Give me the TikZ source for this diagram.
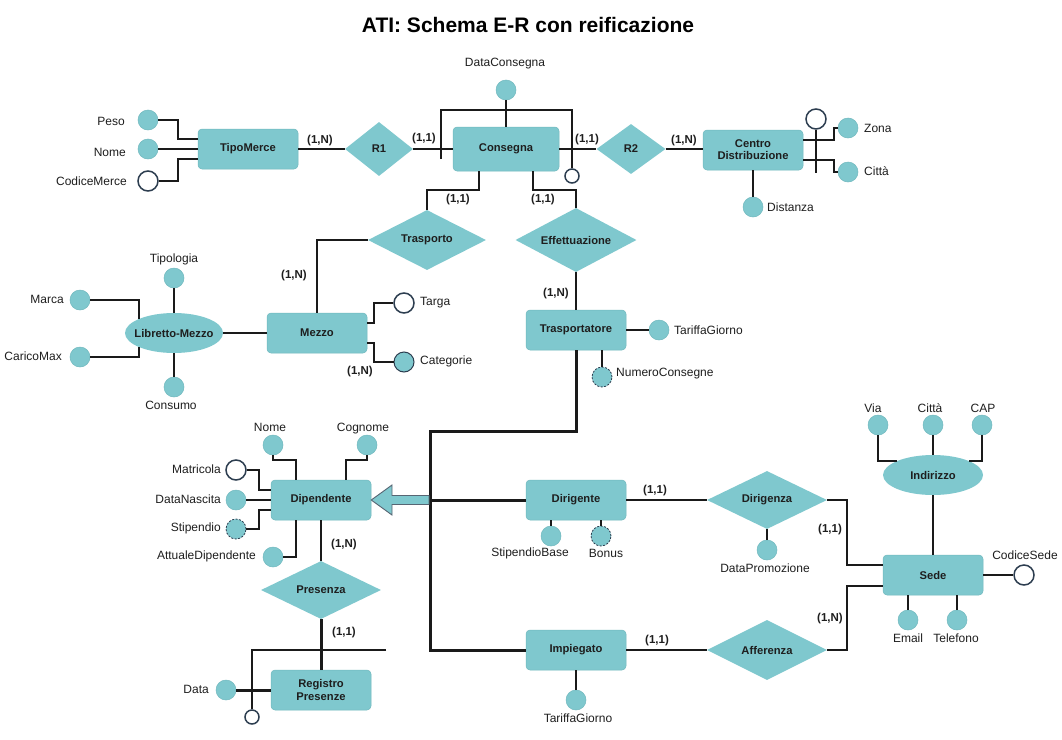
\documentclass[tikz,border=0pt]{standalone}
\usepackage{fontspec}
\setmainfont{Liberation Sans}
\usetikzlibrary{shapes.geometric}
\definecolor{teal1}{RGB}{127,200,206}
\definecolor{tealdk}{RGB}{112,184,190}
\definecolor{ln}{RGB}{26,26,26}
\definecolor{ink}{RGB}{30,30,30}
\definecolor{navy}{RGB}{45,62,80}
\newcommand\myfs{\fontsize{11.5}{13.5}\selectfont}
\newcommand\myfa{\fontsize{12}{14}\selectfont}
\newcommand\myfe{\fontsize{11.2}{13.2}\selectfont}
\tikzset{
  ent/.style={rectangle, rounded corners=4pt, fill=teal1, draw=tealdk, line width=0.5pt,
    minimum width=100pt, minimum height=40pt, inner sep=1pt, font=\myfe\bfseries, text=ink, align=center},
  rel/.style={diamond, aspect=2, inner sep=0pt, fill=teal1, draw=none, font=\myfe\bfseries, text=ink},
  ell/.style={ellipse, inner sep=0pt, fill=teal1, draw=none, minimum width=98pt, minimum height=40pt},
  attrc/.style={circle, inner sep=0pt, minimum size=20pt, fill=teal1, draw=tealdk, line width=0.5pt},
  idattr/.style={circle, inner sep=0pt, minimum size=20pt, fill=white, draw=navy, line width=1.5pt},
  smallid/.style={circle, inner sep=0pt, minimum size=14pt, fill=white, draw=navy, line width=1.5pt},
  multattr/.style={attrc, draw=navy, line width=1pt},
  derattr/.style={attrc, draw=navy, line width=0.8pt, dash pattern=on 2pt off 1.5pt},
  lab/.style={font=\myfa, text=ink, inner sep=1pt},
  bl/.style={font=\myfe\bfseries, text=ink, inner sep=1pt},
  card/.style={font=\myfs\bfseries, text=ink, inner sep=1pt},
  conn/.style={draw=ln, line width=2pt},
  thk/.style={draw=ln, line width=3pt},
  thn/.style={draw=ln, line width=1.5pt},
}
\begin{document}
\begin{tikzpicture}[x=1pt,y=-1pt]
\useasboundingbox[fill=white] (0,0) rectangle (1062,739);

\node[font=\fontsize{21}{24}\selectfont\bfseries, text=black] (title) at (528,25) {ATI: Schema E-R con reificazione};

% ---------- TipoMerce ----------
\node[ent] (tipo) at (248,149) {TipoMerce};
\node[attrc] (peso) at (148,120) {};
\node[lab, anchor=east] (pesol) at (126,121) {Peso};
\node[attrc] (nomem) at (148,149) {};
\node[lab, anchor=east] (nomeml) at (127,152) {Nome};
\node[idattr] (codm) at (148,181) {};
\node[lab, anchor=east] (codml) at (128,181) {CodiceMerce};
\draw[conn] (peso.east) -- (178,120) |- ([yshift=10pt]tipo.west);
\draw[conn] (nomem.east) -- (tipo.west);
\draw[conn] (codm.east) -- (178,181) |- ([yshift=-10pt]tipo.west);

% ---------- R1 / Consegna ----------
\node[rel, minimum width=68pt, minimum height=54pt] (r1) at (379,149) {R1};
\draw[conn] (tipo.east) -- (r1.west);
\node[card] (c1) at (320,141) {(1,N)};
\node[ent, minimum width=106pt, minimum height=44pt] (cons) at (506,149) {Consegna};
\draw[conn] (r1.east) -- (cons.west);
\node[card] (c2) at (424,139) {(1,1)};
\node[attrc] (dc) at (506,90) {};
\node[lab] (dcl) at (505,64) {DataConsegna};
\draw[conn] (dc.south) -- (cons.north);
\node[smallid] (cid) at (572,176) {};
\coordinate (b1) at (441,159);
\draw[conn] (b1) -- (441,110) -- (572,110) -- (cid.north);

% ---------- R2 / Centro Distribuzione ----------
\node[rel, minimum width=69pt, minimum height=50pt] (r2) at (631,149) {R2};
\draw[conn] (cons.east) -- (r2.west);
\node[card] (c3) at (587,140) {(1,1)};
\node[ent] (cd) at (753,150) {Centro\\[-1pt]Distribuzione};
\draw[conn] (r2.east) -- (r2.east -| cd.west);
\node[card] (c4) at (684,141) {(1,N)};
\node[idattr] (cdid) at (816,119) {};
\coordinate (cdidend) at (816,173);
\draw[conn] (cdid.south) -- (cdidend);
\node[attrc] (zona) at (848,128) {};
\node[lab, anchor=west] (zonal) at (863,128) {Zona};
\node[attrc] (citta) at (848,172) {};
\node[lab, anchor=west] (cittal) at (863,171) {Città};
\draw[conn] ([yshift=10pt]cd.east) -- (834,140) |- (zona.west);
\draw[conn] ([yshift=-10pt]cd.east) -- (834,160) |- (citta.west);
\node[attrc] (dist) at (753,207) {};
\node[lab, anchor=west] (distl) at (766,207) {Distanza};
\draw[conn] (cd.south) -- (dist.north);

% ---------- Trasporto / Effettuazione ----------
\node[rel, minimum width=118pt, minimum height=60pt] (trasp) at (427,240) {Trasporto};
\draw[conn] ([xshift=-27pt]cons.south) -- (479,190) -| (trasp.north);
\node[card] (c5) at (458,200) {(1,1)};
\node[rel, minimum width=121pt, minimum height=64pt] (eff) at (576,240) {Effettuazione};
\draw[conn] ([xshift=27pt]cons.south) -- (533,190) -| (eff.north);
\node[card] (c6) at (543,200) {(1,1)};

% ---------- Mezzo / Libretto ----------
\node[ent] (mezzo) at (317,333) {Mezzo};
\draw[conn] (trasp.west) -| (mezzo.north);
\node[card] (c7) at (294,276) {(1,N)};
\node[ell] (lib) at (174,333) {};
\node[bl] (libt) at (lib.center) {Libretto-Mezzo};
\draw[conn] (lib.east) -- (mezzo.west);
\node[attrc] (tipol) at (174,278) {};
\node[lab] (tipoll) at (174,259) {Tipologia};
\draw[conn] (tipol.south) -- (lib.north);
\node[attrc] (consu) at (174,387) {};
\node[lab] (consul) at (171,405) {Consumo};
\draw[conn] (lib.south) -- (consu.north);
\node[attrc] (marca) at (80,300) {};
\node[lab, anchor=east] (marcal) at (65,299) {Marca};
\draw[conn] (marca.east) -| (lib.158);
\node[attrc] (carico) at (80,357) {};
\node[lab, anchor=east] (caricol) at (63,356) {CaricoMax};
\draw[conn] (carico.east) -| (lib.202);
\node[idattr] (targa) at (404,303) {};
\node[lab, anchor=west] (targal) at (419,303) {Targa};
\draw[conn] ([yshift=10pt]mezzo.east) -- (374,323) |- (targa.west);
\node[multattr] (categ) at (404,362) {};
\node[lab, anchor=west] (categl) at (419,361) {Categorie};
\draw[conn] ([yshift=-10pt]mezzo.east) -- (374,343) |- (categ.west);
\node[card] (c8) at (360,372) {(1,N)};

% ---------- Trasportatore ----------
\node[ent] (trs) at (576,330) {Trasportatore};
\draw[conn] (eff.south) -- (trs.north);
\node[card] (c9) at (556,294) {(1,N)};
\node[attrc] (tgt) at (659,330) {};
\node[lab, anchor=west] (tgtl) at (673,330) {TariffaGiorno};
\draw[conn] (trs.east) -- (tgt.west);
\node[derattr] (numc) at (602,377) {};
\node[lab, anchor=west] (numcl) at (615,374) {NumeroConsegne};
\draw[conn] ([xshift=26pt]trs.south) -- (numc.north);

% ---------- Dipendente ----------
\node[ent] (dip) at (321,500) {Dipendente};
\node[attrc] (nomed) at (273,445) {};
\node[lab] (nomedl) at (270,427) {Nome};
\draw[conn] (nomed.south) -- (273,460) -| ([xshift=-25pt]dip.north);
\node[attrc] (cog) at (367,445) {};
\node[lab] (cogl) at (363,429) {Cognome};
\draw[conn] (cog.south) -- (367,460) -| ([xshift=25pt]dip.north);
\node[idattr] (matr) at (236,470) {};
\node[lab, anchor=east] (matrl) at (222,469) {Matricola};
\draw[conn] (matr.east) -- (259,470) |- ([yshift=10pt]dip.west);
\node[attrc] (dn) at (236,500) {};
\node[lab, anchor=east] (dnl) at (222,499) {DataNascita};
\draw[conn] (dn.east) -- (dip.west);
\node[derattr] (stip) at (236,529) {};
\node[lab, anchor=east] (stipl) at (222,528) {Stipendio};
\draw[conn] (stip.east) -- (259,529) |- ([yshift=-10pt]dip.west);
\node[attrc] (att) at (273,557) {};
\node[lab, anchor=east] (attl) at (257,556) {AttualeDipendente};
\draw[conn] (att.east) -| ([xshift=-25pt]dip.south);

% ---------- Generalizzazione ----------
\node[ent] (dir) at (576,500) {Dirigente};
\node[ent] (imp) at (576,650) {Impiegato};
\coordinate (gtop) at (576,431);
\coordinate (gl1) at (430,431);
\coordinate (gmid) at (430,500);
\coordinate (gbot) at (430,650);
\draw[thk, line join=miter] (trs.south) -- (gtop) -- (gl1) -- (gbot) -- (imp.west);
\draw[thk] (gmid) -- (dir.west);
\draw[fill=teal1, draw=navy!80, line width=0.9pt, line join=miter]
  (dip.east) -- (392,485) -- (392,495.5) -- (429,495.5) -- (429,504.5) -- (392,504.5) -- (392,515) -- cycle;

% ---------- Presenza / Registro ----------
\node[rel, minimum width=120pt, minimum height=58pt] (pres) at (321,590) {Presenza};
\draw[conn] (dip.south) -- (pres.north);
\node[card] (c10) at (344,545) {(1,N)};
\node[ent] (reg) at (321,690) {Registro\\[-1pt]Presenze};
\draw[thk] (pres.south) -- (reg.north);
\node[card] (c11) at (344,633) {(1,1)};
\node[smallid] (regid) at (252,717) {};
\coordinate (rgr) at (386,650);
\draw[thn] (rgr) -- (252,650) -- (regid.north);
\node[attrc] (data) at (226,690) {};
\node[lab, anchor=east] (datal) at (210,689) {Data};
\draw[thk] (data.east) -- (reg.west);

% ---------- Dirigente ----------
\node[attrc] (sb) at (551,536) {};
\node[lab] (sbl) at (530,553) {StipendioBase};
\draw[conn] ([xshift=-25pt]dir.south) -- (sb.north);
\node[derattr] (bon) at (601,536) {};
\node[lab] (bonl) at (606,553) {Bonus};
\draw[conn] ([xshift=25pt]dir.south) -- (bon.north);
\node[rel, minimum width=120pt, minimum height=58pt] (dirz) at (767,500) {Dirigenza};
\draw[conn] (dir.east) -- (dirz.west);
\node[card] (c12) at (655,491) {(1,1)};
\node[attrc] (dp) at (767,550) {};
\node[lab] (dpl) at (765,568) {DataPromozione};
\draw[conn] (dirz.south) -- (dp.north);

% ---------- Sede ----------
\node[ent] (sede) at (933,575) {Sede};
\draw[conn] (dirz.east) -- (847,500) |- ([yshift=10pt]sede.west);
\node[card] (c13) at (830,530) {(1,1)};
\node[rel, minimum width=120pt, minimum height=60pt] (aff) at (767,650) {Afferenza};
\draw[conn] (aff.east) -- (847,650) |- ([yshift=-11pt]sede.west);
\node[card] (c14) at (830,619) {(1,N)};
\node[idattr] (cs) at (1024,575) {};
\node[lab] (csl) at (1025,555) {CodiceSede};
\draw[conn] (sede.east) -- (cs.west);
\node[attrc] (email) at (908,620) {};
\node[lab] (emaill) at (908,638) {Email};
\draw[conn] ([xshift=-25pt]sede.south) -- (email.north);
\node[attrc] (tel) at (957,620) {};
\node[lab] (tell) at (956,638) {Telefono};
\draw[conn] ([xshift=24pt]sede.south) -- (tel.north);
\node[ell, minimum width=100pt] (ind) at (933,475) {};
\node[bl] (indt) at (ind.center) {Indirizzo};
\draw[conn] (ind.south) -- (sede.north);
\node[attrc] (via) at (878,425) {};
\node[lab] (vial) at (873,408) {Via};
\draw[conn] (via.south) |- (ind.159);
\node[attrc] (cit2) at (933,425) {};
\node[lab] (cit2l) at (930,408) {Città};
\draw[conn] (cit2.south) -- (ind.north);
\node[attrc] (cap) at (982,425) {};
\node[lab] (capl) at (983,408) {CAP};
\draw[conn] (cap.south) |- (ind.21);

% ---------- Impiegato ----------
\node[attrc] (tgi) at (576,700) {};
\node[lab] (tgil) at (578,718) {TariffaGiorno};
\draw[conn] (imp.south) -- (tgi.north);
\draw[conn] (imp.east) -- (aff.west);
\node[card] (c15) at (657,641) {(1,1)};
\end{tikzpicture}
\end{document}
